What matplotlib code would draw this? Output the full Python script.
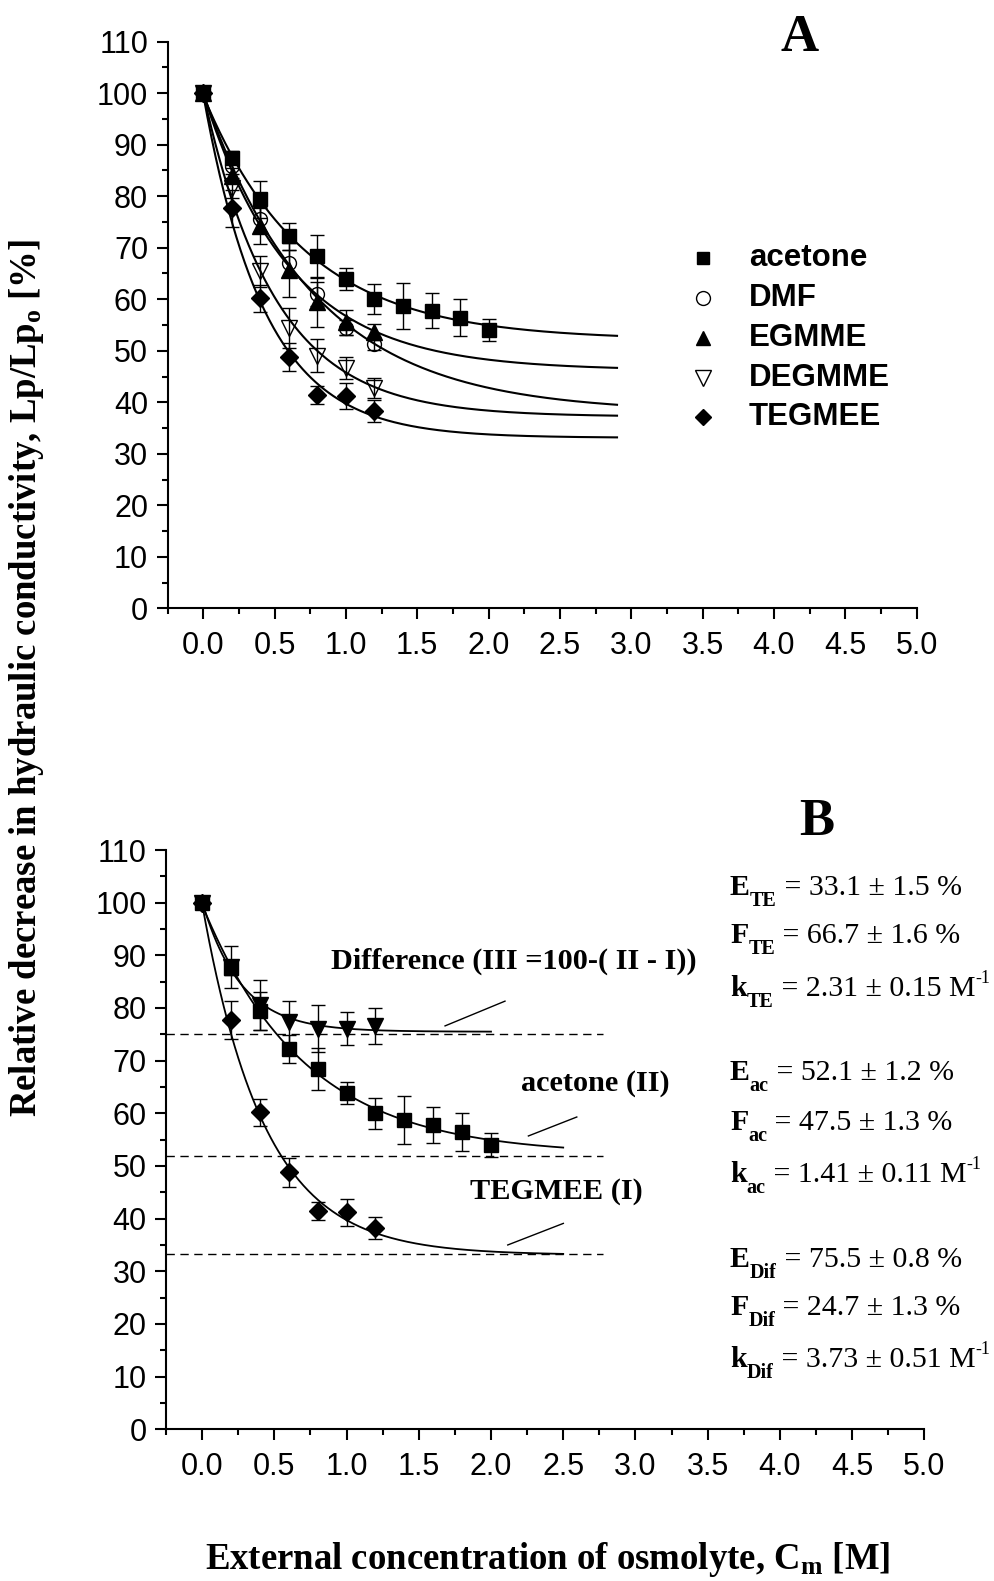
import numpy as np
import matplotlib
matplotlib.use("Agg")
import matplotlib.pyplot as plt
from matplotlib.ticker import FixedLocator, FormatStrFormatter

plt.rcParams['font.family'] = ['Liberation Sans', 'DejaVu Sans']
plt.rcParams['mathtext.fontset'] = 'custom'
plt.rcParams['mathtext.rm'] = 'Liberation Serif'
plt.rcParams['mathtext.bf'] = 'Liberation Serif:bold'
plt.rcParams['mathtext.it'] = 'Liberation Serif:italic'

# ---------------- data ----------------
conc_long = [0.0, 0.2, 0.4, 0.6, 0.8, 1.0, 1.2, 1.4, 1.6, 1.8, 2.0]
conc_short = [0.0, 0.2, 0.4, 0.6, 0.8, 1.0, 1.2]

acetone = [100, 87.5, 79.4, 72.2, 68.4, 63.9, 60.0, 58.7, 57.8, 56.4, 54.0]
acetone_err = [0.5, 1.3, 3.6, 2.6, 4.0, 2.1, 2.9, 4.5, 3.4, 3.6, 2.2]

dmf = [100, 85.8, 75.5, 67.1, 61.0, 54.5, 51.4]
dmf_err = [0.5, 1.5, 2.5, 2.5, 2.4, 1.5, 1.3]

egmme = [100, 84.0, 74.2, 65.7, 59.4, 55.5, 53.6]
egmme_err = [0.5, 1.5, 3.5, 5.2, 4.7, 2.5, 1.5]

degmme = [100, 81.6, 65.4, 54.4, 49.0, 46.7, 42.8]
degmme_err = [0.5, 2.0, 3.0, 3.9, 3.2, 2.1, 2.0]

tegmee = [100, 77.7, 60.2, 48.8, 41.4, 41.2, 38.3]
tegmee_err = [0.5, 3.6, 2.6, 2.8, 1.7, 2.6, 2.1]

difference = [100, 87.8, 80.6, 77.3, 76.1, 76.1, 76.6]
difference_err = [0.5, 4.0, 4.7, 4.0, 4.4, 3.2, 3.4]

# fit parameters y = E + F*exp(-k*C)
fit_E = {'acetone': 52.1, 'DMF': 38.0, 'EGMME': 46.2, 'DEGMME': 37.2, 'TEGMEE': 33.1, 'Dif': 75.5}
fit_F = {'acetone': 47.5, 'DMF': 62.0, 'EGMME': 53.8, 'DEGMME': 62.8, 'TEGMEE': 66.7, 'Dif': 24.7}
fit_k = {'acetone': 1.41, 'DMF': 1.28, 'EGMME': 1.63, 'DEGMME': 1.99, 'TEGMEE': 2.31, 'Dif': 3.73}

plateau_levels = [75.0, 51.9, 33.2]

legend_labels = ['acetone', 'DMF', 'EGMME', 'DEGMME', 'TEGMEE']

x_ticks = [0.0, 0.5, 1.0, 1.5, 2.0, 2.5, 3.0, 3.5, 4.0, 4.5, 5.0]
y_ticks = [0, 10, 20, 30, 40, 50, 60, 70, 80, 90, 100, 110]

# (symbol, subscript, value text, has M^-1)
param_lines = [
    ("E", "TE", " = 33.1 ± 1.5 %", False),
    ("F", "TE", " = 66.7 ± 1.6 %", False),
    ("k", "TE", " = 2.31 ± 0.15 M", True),
    ("E", "ac", " = 52.1 ± 1.2 %", False),
    ("F", "ac", " = 47.5 ± 1.3 %", False),
    ("k", "ac", " = 1.41 ± 0.11 M", True),
    ("E", "Dif", " = 75.5 ± 0.8 %", False),
    ("F", "Dif", " = 24.7 ± 1.3 %", False),
    ("k", "Dif", " = 3.73 ± 0.51 M", True),
]
param_baselines_px = [895, 943, 996, 1080, 1130, 1182, 1267, 1315, 1367]

W, H = 994, 1581
fig = plt.figure(figsize=(W / 100, H / 100), dpi=100)
axA = fig.add_axes([167.5 / W, 1 - 608.3 / H, (916.7 - 167.5) / W, (608.3 - 41.7) / H])
axB = fig.add_axes([166.0 / W, 1 - 1429.3 / H, (924.3 - 166.0) / W, (1429.3 - 850.0) / H])
renderer = fig.canvas.get_renderer()


def model(name, x):
    return fit_E[name] + fit_F[name] * np.exp(-fit_k[name] * np.asarray(x))


def style_axes(ax):
    ax.set_xlim(-0.25, 5.0)
    ax.set_ylim(0, 110)
    for s in ['top', 'right']:
        ax.spines[s].set_visible(False)
    for s in ['left', 'bottom']:
        ax.spines[s].set_linewidth(1.5)
    ax.xaxis.set_major_locator(FixedLocator(x_ticks))
    ax.xaxis.set_minor_locator(FixedLocator(np.arange(-0.25, 5.0, 0.5)))
    ax.yaxis.set_major_locator(FixedLocator(y_ticks))
    ax.yaxis.set_minor_locator(FixedLocator(np.arange(5, 110, 10)))
    ax.xaxis.set_major_formatter(FormatStrFormatter('%.1f'))
    ax.tick_params(which='major', direction='out', length=8, width=1.5, labelsize=22, pad=6)
    ax.tick_params(which='minor', direction='out', length=4.5, width=1.5)
    ax.tick_params(axis='x', which='major', pad=8)
    for lab in ax.get_xticklabels() + ax.get_yticklabels():
        lab.set_fontfamily('Liberation Sans')


style_axes(axA)
style_axes(axB)

eb_kw = dict(ecolor='black', elinewidth=1.0, capsize=5, capthick=1.0, linestyle='none', zorder=3)

# ---------------- panel A ----------------
xA = np.linspace(0, 2.9, 300)
for name in ['acetone', 'DMF', 'EGMME', 'DEGMME', 'TEGMEE']:
    axA.plot(xA, model(name, xA), color='black', lw=1.5, zorder=2)

axA.errorbar(conc_long, acetone, yerr=acetone_err, fmt='s', ms=9.5, mfc='black', mec='black', **eb_kw)
axA.errorbar(conc_short, dmf, yerr=dmf_err, fmt='o', ms=10, mfc='none', mec='black', mew=1.0, **eb_kw)
axA.errorbar(conc_short, egmme, yerr=egmme_err, fmt='^', ms=11.5, mfc='black', mec='black', **eb_kw)
axA.errorbar(conc_short, degmme, yerr=degmme_err, fmt='v', ms=12, mfc='none', mec='black', mew=1.0, **eb_kw)
axA.errorbar(conc_short, tegmee, yerr=tegmee_err, fmt='D', ms=9.5, mfc='black', mec='black', **eb_kw)

# manual legend (axes fraction coordinates)
leg_markers = [dict(marker='s', ms=8, mfc='black', mec='black'),
               dict(marker='o', ms=10, mfc='none', mec='black', mew=1.0),
               dict(marker='^', ms=10.5, mfc='black', mec='black'),
               dict(marker='v', ms=11, mfc='none', mec='black', mew=1.0),
               dict(marker='D', ms=8.5, mfc='black', mec='black')]
leg_y_px = [258, 298, 337.5, 377.5, 417]
for lab, mk, ypx in zip(legend_labels, leg_markers, leg_y_px):
    yf = (608.3 - ypx) / (608.3 - 41.7)
    axA.plot([(702.7 - 167.5) / 749.2], [yf], transform=axA.transAxes, linestyle='none', clip_on=False, **mk)
    axA.text((749 - 167.5) / 749.2, yf, lab, transform=axA.transAxes, fontsize=22.5, fontweight='bold',
             fontfamily='Liberation Sans', ha='left', va='center')

# ---------------- panel B ----------------
for lvl in plateau_levels:
    axB.plot([-0.25, 2.776], [lvl, lvl], color='black', lw=1.0, linestyle=(0, (6, 4)), zorder=1)

xB = np.linspace(0, 2.5, 300)
xD = np.linspace(0, 2.0, 300)
axB.plot(xB, model('acetone', xB), color='black', lw=1.3, zorder=2)
axB.plot(xB, model('TEGMEE', xB), color='black', lw=1.3, zorder=2)
axB.plot(xD, model('Dif', xD), color='black', lw=1.3, zorder=2)

axB.errorbar(conc_long, acetone, yerr=acetone_err, fmt='s', ms=9.5, mfc='black', mec='black', **eb_kw)
axB.errorbar(conc_short, tegmee, yerr=tegmee_err, fmt='D', ms=9.5, mfc='black', mec='black', **eb_kw)
axB.errorbar(conc_short, difference, yerr=difference_err, fmt='v', ms=11.5, mfc='black', mec='black', **eb_kw)

serif = 'Liberation Serif'
axB.text(0.891, 88.9, "Difference (III =100-( II - I))", fontsize=21.8, fontweight='bold', fontfamily=serif,
         ha='left', va='center')
axB.text(2.208, 65.6, "acetone (II)", fontsize=21.8, fontweight='bold', fontfamily=serif, ha='left', va='center')
axB.text(1.855, 45.1, "TEGMEE (I)", fontsize=21.8, fontweight='bold', fontfamily=serif, ha='left', va='center')
axB.plot([1.682, 2.097], [76.6, 81.3], color='black', lw=1.0)
axB.plot([2.259, 2.594], [55.7, 59.3], color='black', lw=1.0)
axB.plot([2.116, 2.501], [35.0, 39.1], color='black', lw=1.0)


def put_run(x_px, base_px, text, size, weight='normal'):
    t = fig.text(x_px / W, 1 - base_px / H, text, fontsize=size, fontweight=weight, fontfamily=serif,
                 ha='left', va='baseline')
    bb = t.get_window_extent(renderer=renderer)
    return x_px + bb.width


for (sym, sub, rest, has_m), bpx in zip(param_lines, param_baselines_px):
    x = put_run(730, bpx, sym, 21.5, 'bold')
    x = put_run(x, bpx + 11, sub, 14.5, 'bold')
    x = put_run(x, bpx, rest, 21.5)
    if has_m:
        put_run(x + 0.5, bpx - 13, "-1", 13)

# panel letters
fig.text(799.5 / W, 1 - 38.3 / H, "A", fontsize=38, fontweight='bold', fontfamily=serif, ha='center', va='center')
fig.text(816.6 / W, 1 - 821.6 / H, "B", fontsize=38, fontweight='bold', fontfamily=serif, ha='center', va='center')

# axis labels
fig.text(27 / W, 1 - 678 / H, r"Relative decrease in hydraulic conductivity, Lp/Lp$_\mathbf{o}$ [%]",
         rotation=90, fontsize=26.5, fontweight='bold', fontfamily=serif, ha='center', va='center')
fig.text(547.5 / W, 1 - 1559.6 / H, r"External concentration of osmolyte, C$_\mathbf{m}$ [M]",
         fontsize=26.5, fontweight='bold', fontfamily=serif, ha='center', va='center')

fig.savefig('out.png', dpi=100)
